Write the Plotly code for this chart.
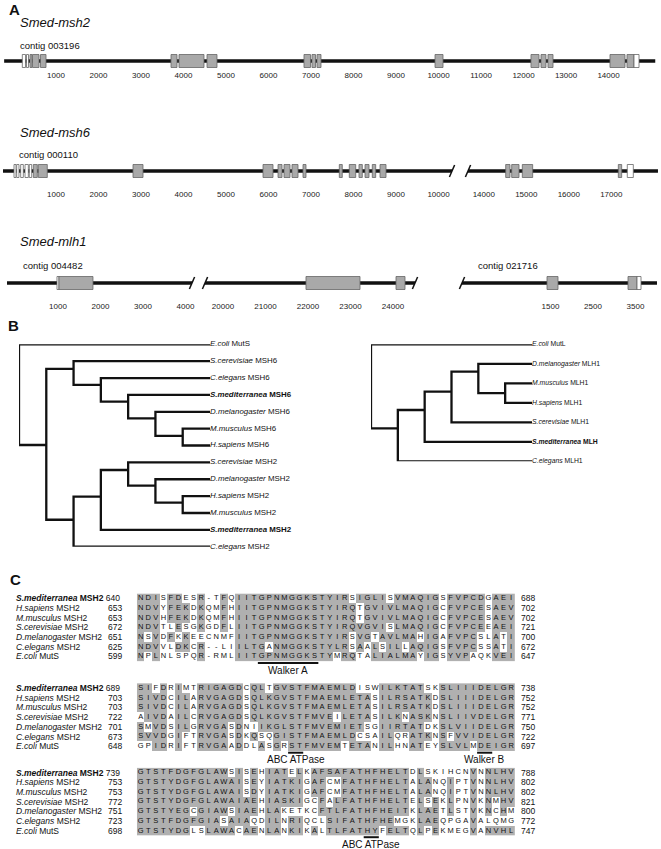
import plotly.graph_objects as go

W, H = 661, 849
SANS = "Liberation Sans, Arial, sans-serif"

def pxx(px):
    return px / W

def pxy(py):
    return 1 - py / H

# ======================= Panel A data =======================
gene_names = ["Smed-msh2", "Smed-msh6", "Smed-mlh1"]

# segments: (first bp, last bp, axis shift) ; display position = bp - shift
msh2_segments = [(-220, 15100, 0)]
msh2_contigs = ["contig 003196"]
msh2_ticks = [[1000, 2000, 3000, 4000, 5000, 6000, 7000, 8000, 9000, 10000,
               11000, 12000, 13000, 14000]]
msh2_exons = [(0, 207, 282, "w"), (0, 306, 353, "w"), (0, 388, 435, "g"),
              (0, 447, 600, "g"), (0, 635, 765, "g"),
              (0, 3706, 3847, "g"), (0, 3894, 4482, "g"), (0, 4553, 4788, "g"),
              (0, 6835, 6988, "g"), (0, 7023, 7106, "g"), (0, 7141, 7235, "g"),
              (0, 9918, 10106, "g"),
              (0, 12176, 12365, "g"), (0, 12412, 12529, "g"), (0, 12576, 12694, "g"),
              (0, 14035, 14388, "g"), (0, 14435, 14600, "g"), (0, 14600, 14718, "w")]

msh6_segments = [(-247, 10318, 0), (13629, 18099, 2935)]
msh6_contigs = ["contig 000110", None]
msh6_ticks = [[1000, 2000, 3000, 4000, 5000, 6000, 7000, 8000, 9000, 10000],
              [14000, 15000, 16000, 17000]]
msh6_exons = [(0, 12, 59, "w"), (0, 75, 129, "w"), (0, 169, 231, "w"),
              (0, 271, 349, "w"), (0, 372, 428, "w"), (0, 466, 560, "g"),
              (0, 584, 795, "g"), (0, 2812, 3047, "g"),
              (0, 5871, 6106, "g"), (0, 6224, 6318, "g"), (0, 6365, 6506, "g"),
              (0, 6553, 6694, "g"), (0, 6812, 6882, "g"),
              (0, 7666, 7736, "g"), (0, 7901, 8052, "g"), (0, 8129, 8207, "g"),
              (0, 8271, 8365, "g"), (0, 8442, 8522, "g"), (0, 8624, 8765, "g"),
              (1, 14516, 14617, "g"), (1, 14657, 14829, "g"), (1, 14907, 15151, "g"),
              (1, 17166, 17245, "g"), (1, 17377, 17519, "w")]

mlh1_segments = [(-200, 4153, -47), (19577, 24518, 15071), (-582, 4006, -11135)]
mlh1_contigs = ["contig 004482", None, "contig 021716"]
mlh1_ticks = [[1000, 2000, 3000, 4000], [20000, 21000, 22000, 23000, 24000],
              [1500, 2500, 3500]]
mlh1_exons = [(0, 976, 1023, "w"), (0, 1023, 1823, "g"),
              (1, 21953, 23224, "g"), (1, 24071, 24283, "g"),
              (2, 1418, 1677, "g"), (2, 3324, 3536, "g"), (2, 3536, 3630, "w")]

# ======================= Panel B data =======================
mms_leaves = ["<i>E.coli</i> MutS", "<i>S.cerevisiae</i> MSH6", "<i>C.elegans</i> MSH6",
              "<b><i>S.mediterranea</i> MSH6</b>", "<i>D.melanogaster</i> MSH6",
              "<i>M.musculus</i> MSH6", "<i>H.sapiens</i> MSH6",
              "<i>S.cerevisiae</i> MSH2", "<i>D.melanogaster</i> MSH2",
              "<i>H.sapiens</i> MSH2", "<i>M.musculus</i> MSH2",
              "<b><i>S.mediterranea</i> MSH2</b>", "<i>C.elegans</i> MSH2"]
mms_node_ids = ["root", "X", "M6", "C6", "S6", "D6", "MH6", "M2", "N3", "N4", "N5", "N6"]
mms_node_level = [0, 1, 2, 3, 4, 5, 6, 2, 3, 4, 5, 6]
mms_node_y = [None, 5.97, 1.46, 2.41, 3.40, 4.39, 5.43, 10.40, 9.03, 7.45, 8.38, 9.39]
mms_node_children = [["L0", "X"], ["M6", "M2"], ["L1", "C6"], ["L2", "S6"], ["L3", "D6"],
                     ["L4", "MH6"], ["L5", "L6"], ["N3", "L12"], ["N4", "L11"],
                     ["L7", "N5"], ["L8", "N6"], ["L9", "L10"]]

mlh_leaves = ["<i>E.coli</i> MutL", "<i>D.melanogaster</i> MLH1", "<i>M.musculus</i> MLH1",
              "<i>H.sapiens</i> MLH1", "<i>S.cerevisiae</i> MLH1",
              "<b><i>S.mediterranea</i> MLH</b>", "<i>C.elegans</i> MLH1"]
mlh_node_ids = ["root", "R1", "R2", "R3", "R4", "R5"]
mlh_node_level = [0, 1, 2, 3, 4, 5]
mlh_node_y = [None, 4.31, 3.37, 2.43, 1.40, 2.50]
mlh_node_children = [["L0", "R1"], ["R2", "L6"], ["R3", "L5"], ["R4", "L4"],
                     ["L1", "R5"], ["L2", "L3"]]

# ======================= Panel C data =======================
aln_names = ["<b><i>S.mediterranea</i> MSH2</b>", "<i>H.sapiens</i> MSH2",
             "<i>M.musculus</i> MSH2", "<i>S.cerevisiae</i> MSH2",
             "<i>D.melanogaster</i> MSH2", "<i>C.elegans</i> MSH2", "<i>E.coli</i> MutS"]
aln_bold = [True, False, False, False, False, False, False]

block1_seqs = ["NDISFDESR-TFQIITGPNMGGKSTYIRSIGLISVMAQIGSFVPCDGAEI",
               "NDVYFEKDKQMFHIITGPNMGGKSTYIRQTGVIVLMAQIGCFVPCESAEV",
               "NDVHFEKDKQMFHIITGPNMGGKSTYIRQTGVIVLMAQIGCFVPCESAEV",
               "NDVTLESGKGDFLIITGPNMGGKSTYIRQVGVISLMAQIGCFVPCEEAEI",
               "NSVDFKKEECNMFIITGPNMGGKSTYIRSVGTAVLMAHIGAFVPCSLATI",
               "NDVVLDKCR--LIILTGANMGGKSTYLRSAALSILLAQIGSFVPCSSATI",
               "NPLNLSPQR-RMLIITGPNMGGKSTYMRQTALIALMAYIGSYVPAQKVEI"]
block1_start = [640, 653, 653, 672, 651, 625, 599]
block1_end = [688, 702, 702, 721, 700, 672, 647]

block2_seqs = ["SIFDRIMTRIGAGDCQLTGVSTFMAEMLDISWILKTATSKSLIIIDELGR",
               "SIVDCILARVGAGDSQLKGVSTFMAEMLETASILRSATKDSLIIIDELGR",
               "SIVDCILARVGAGDSQLKGVSTFMAEMLETASILRSATKDSLIIIDELGR",
               "AIVDAILCRVGAGDSQLKGVSTFMVEILETASILKNASKNSLIIVDELGR",
               "SMVDSILGRVGASDNIIKGLSTFMVEMIETSGIIRTATDKSLVIIDELGR",
               "SVVDGIFTRVGASDKQSQGISTFMAEMLDCSAILQRATKNSFVVIDELGR",
               "GPIDRIFTRVGAADDLASGRSTFMVEMTETANILHNATEYSLVLMDEIGR"]
block2_start = [689, 703, 703, 722, 701, 673, 648]
block2_end = [738, 752, 752, 771, 750, 722, 697]

block3_seqs = ["GTSTFDGFGLAWSISEHIATELKAFSAFATHFHELTDLSKIHCNVNNLHV",
               "GTSTYDGFGLAWAISEYIATKIGAFCMFATHFHELTALANQIPTVNNLHV",
               "GTSTYDGFGLAWAISDYIATKIGAFCMFATHFHELTALANQIPTVNNLHV",
               "GTSTYDGFGLAWAIAEHIASKIGCFALFATHFHELTELSEKLPNVKNMHV",
               "GTSTYEGCGIAWSIAEHLAKETKCFTLFATHFHEITKLAETLSTVKNCHM",
               "GTSTFDGFGIASAIAQDILNRIQCLSIFATHFHEMGKLAEQPGAVALQMG",
               "GTSTYDGLSLAWACAENLANKIKALTLFATHYFELTQLPEKMEGVANVHL"]
block3_start = [739, 753, 753, 772, 751, 723, 698]
block3_end = [788, 802, 802, 821, 800, 772, 747]

# motifs: (first column, last column, label)
block1_motifs = [(16, 23, "Walker A")]
block2_motifs = [(20, 21, "ABC ATPase"), (45, 46, "Walker B")]
block3_motifs = [(30, 31, "ABC ATPase")]

SIM_GROUPS = ["ILVA", "M", "FYW", "KR", "DE", "ST", "NQ", "G", "P", "C", "H"]

# ======================= layout constants =======================
PX_PER_BP = 0.0425
ZERO_PX = 13.5
GRAY = "#a9a9a9"
EDGE = "#666666"
CELL_GRAY = "#b0b0b0"

row_name_y = [23, 132, 241]
row_contig_y = [45, 155, 265]
row_line_y = [61, 171, 283]
row_label_y = [76, 195, 307]

fig = go.Figure()
layout = dict(width=W, height=H, margin=dict(l=0, r=0, t=0, b=0),
              paper_bgcolor="white", plot_bgcolor="rgba(0,0,0,0)",
              showlegend=False, shapes=[], annotations=[])

def hidden_axis(**kw):
    d = dict(showgrid=False, zeroline=False, showline=False, ticks="",
             showticklabels=False, fixedrange=True)
    d.update(kw)
    return d

# ---------------- Panel A ----------------
genes = [(msh2_segments, msh2_contigs, msh2_ticks, msh2_exons),
         (msh6_segments, msh6_contigs, msh6_ticks, msh6_exons),
         (mlh1_segments, mlh1_contigs, mlh1_ticks, mlh1_exons)]
d0 = -ZERO_PX / PX_PER_BP
d1 = (W - ZERO_PX) / PX_PER_BP
slash_dx = 2.6 / PX_PER_BP

for i, (segs, contigs, ticks, exons) in enumerate(genes):
    n = i + 1
    xa = "x" if n == 1 else f"x{n}"
    ya = "y" if n == 1 else f"y{n}"
    top = row_line_y[i] - 12
    bottom = row_label_y[i] - 7
    tickvals, ticktext = [], []
    for (s0, s1, sh), tl in zip(segs, ticks):
        tickvals += [t - sh for t in tl]
        ticktext += [str(t) for t in tl]
    layout["xaxis" if n == 1 else f"xaxis{n}"] = hidden_axis(
        domain=[0, 1], range=[d0, d1], anchor=ya, showticklabels=True,
        tickvals=tickvals, ticktext=ticktext, ticklen=0,
        tickfont=dict(family=SANS, size=8, color="#222"))
    layout["yaxis" if n == 1 else f"yaxis{n}"] = hidden_axis(
        domain=[pxy(bottom), pxy(top)], range=[-(bottom - row_line_y[i]), 12], anchor=xa)

    lx, ly, sx, sy = [], [], [], []
    for k, (s0, s1, sh) in enumerate(segs):
        lx += [s0 - sh, s1 - sh, None]
        ly += [0, 0, None]
        if k > 0:
            sx += [s0 - sh - slash_dx, s0 - sh + slash_dx, None]
            sy += [-6, 6, None]
        if k < len(segs) - 1:
            sx += [s1 - sh - slash_dx, s1 - sh + slash_dx, None]
            sy += [-6, 6, None]
        if contigs[k]:
            layout["annotations"].append(dict(
                text=contigs[k], xref=xa, yref="paper", x=s0 - sh, xshift=14,
                y=pxy(row_contig_y[i]), xanchor="left", yanchor="middle",
                showarrow=False, font=dict(family=SANS, size=9.5, color="#111")))
    fig.add_trace(go.Scatter(x=lx, y=ly, mode="lines", xaxis=xa, yaxis=ya,
                             line=dict(color="#111", width=3.5), hoverinfo="skip"))
    if sx:
        fig.add_trace(go.Scatter(x=sx, y=sy, mode="lines", xaxis=xa, yaxis=ya,
                                 line=dict(color="#111", width=1.5), hoverinfo="skip"))
    for (k, e0, e1, kind) in exons:
        sh = segs[k][2]
        layout["shapes"].append(dict(
            type="rect", xref=xa, yref=ya, x0=e0 - sh, x1=e1 - sh, y0=-6.5, y1=6.5,
            fillcolor=GRAY if kind == "g" else "white",
            line=dict(color=EDGE, width=0.8)))
    layout["annotations"].append(dict(
        text=f"<i>{gene_names[i]}</i>", xref="paper", yref="paper",
        x=pxx(18), y=pxy(row_name_y[i]), xanchor="left", yanchor="middle",
        showarrow=False, font=dict(family=SANS, size=13, color="#111")))

# ---------------- Panel B ----------------
def draw_tree(leaves, ids, levels, ys, children, xa, ya, leaf_level, fsize):
    pos = {f"L{j}": (leaf_level, j) for j in range(len(leaves))}
    for nid, lv, yv in zip(ids, levels, ys):
        pos[nid] = (lv, yv)
    bx, by = [], []
    for nid, lv, ch in zip(ids, levels, children):
        (ax_, ay_), (bx_, by_) = pos[ch[0]], pos[ch[1]]
        bx += [ax_, lv, lv, bx_, None]
        by += [ay_, ay_, by_, by_, None]
    fig.add_trace(go.Scatter(x=bx, y=by, mode="lines", xaxis=xa, yaxis=ya,
                             line=dict(color="#111", width=2.3), hoverinfo="skip"))
    fig.add_trace(go.Scatter(x=[leaf_level] * len(leaves), y=list(range(len(leaves))),
                             mode="text", text=leaves, textposition="middle right",
                             xaxis=xa, yaxis=ya, cliponaxis=False, hoverinfo="skip",
                             textfont=dict(family=SANS, size=fsize, color="#111")))

layout["xaxis4"] = hidden_axis(domain=[pxx(19), pxx(210)], range=[0, 7], anchor="y4")
layout["yaxis4"] = hidden_axis(domain=[pxy(344.3 + 12 * 16.87), pxy(344.3)],
                               range=[12, 0], anchor="x4")
draw_tree(mms_leaves, mms_node_ids, mms_node_level, mms_node_y, mms_node_children,
          "x4", "y4", 7, 7.9)
layout["xaxis5"] = hidden_axis(domain=[pxx(371), pxx(532)], range=[0, 6], anchor="y5")
layout["yaxis5"] = hidden_axis(domain=[pxy(344.3 + 6 * 19.5), pxy(344.3)],
                               range=[6, 0], anchor="x5")
draw_tree(mlh_leaves, mlh_node_ids, mlh_node_level, mlh_node_y, mlh_node_children,
          "x5", "y5", 6, 6.8)

# ---------------- Panel C ----------------
def shading(seqs):
    z = [[0] * len(seqs[0]) for _ in seqs]
    for c in range(len(seqs[0])):
        col = [s[c] for s in seqs]
        best, bestn = None, 0
        for g in SIM_GROUPS:
            cnt = sum(ch in g for ch in col)
            if cnt > bestn:
                best, bestn = g, cnt
        if bestn >= 4:
            for r, ch in enumerate(col):
                if ch in best:
                    z[r][c] = 1
    return z

RS = 9.7
block_row1 = [598.3, 688.0, 772.5]
blocks = [(block1_seqs, block1_start, block1_end, block1_motifs),
          (block2_seqs, block2_start, block2_end, block2_motifs),
          (block3_seqs, block3_start, block3_end, block3_motifs)]
CELL_L, CELL_R = 136.9, 514.9
NAME_FONT = dict(family=SANS, size=8.5, color="#111")

for b, (seqs, starts, ends, motifs) in enumerate(blocks):
    n = 6 + b
    xa, ya = f"x{n}", f"y{n}"
    nr, nc = len(seqs), len(seqs[0])
    r1 = block_row1[b]
    layout[f"xaxis{n}"] = hidden_axis(domain=[pxx(CELL_L), pxx(CELL_R)],
                                      range=[-0.5, nc - 0.5], anchor=ya)
    layout[f"yaxis{n}"] = hidden_axis(domain=[pxy(r1 + (nr - 0.5) * RS), pxy(r1 - 0.5 * RS)],
                                      range=[nr - 0.5, -0.5], anchor=xa)
    fig.add_trace(go.Heatmap(z=shading(seqs), x=list(range(nc)), y=list(range(nr)),
                             xaxis=xa, yaxis=ya, zmin=0, zmax=1, showscale=False,
                             colorscale=[[0, "white"], [1, CELL_GRAY]], hoverinfo="skip"))
    tx, ty, tt = [], [], []
    for r, s in enumerate(seqs):
        for c, ch in enumerate(s):
            tx.append(c); ty.append(r); tt.append(ch)
    fig.add_trace(go.Scatter(x=tx, y=ty, text=tt, mode="text", xaxis=xa, yaxis=ya,
                             hoverinfo="skip",
                             textfont=dict(family=SANS, size=7.5, color="#111")))
    for r in range(nr):
        if aln_bold[r]:
            layout["annotations"].append(dict(
                text=f"{aln_names[r]} {starts[r]}", xref="paper", yref=ya, x=pxx(14), y=r,
                xanchor="left", yanchor="middle", showarrow=False, font=NAME_FONT))
        else:
            layout["annotations"].append(dict(
                text=aln_names[r], xref="paper", yref=ya, x=pxx(14), y=r,
                xanchor="left", yanchor="middle", showarrow=False, font=NAME_FONT))
            layout["annotations"].append(dict(
                text=str(starts[r]), xref="paper", yref=ya, x=pxx(124), y=r,
                xanchor="right", yanchor="middle", showarrow=False, font=NAME_FONT))
        layout["annotations"].append(dict(
            text=str(ends[r]), xref="paper", yref=ya, x=pxx(519), y=r,
            xanchor="left", yanchor="middle", showarrow=False, font=NAME_FONT))
    last_px = r1 + (nr - 1) * RS
    for (c0, c1, lab) in motifs:
        layout["shapes"].append(dict(type="line", xref=xa, yref="paper",
                                     x0=c0 - 0.5, x1=c1 + 0.5,
                                     y0=pxy(last_px + 6.5), y1=pxy(last_px + 6.5),
                                     line=dict(color="#111", width=2)))
        layout["annotations"].append(dict(
            text=lab, xref=xa, yref="paper", x=(c0 + c1) / 2, y=pxy(last_px + 13.5),
            xanchor="center", yanchor="middle", showarrow=False,
            font=dict(family=SANS, size=10, color="#111")))

# panel letters
for lab, px_, py_ in [("A", 7, 10), ("B", 6, 325), ("C", 8, 579)]:
    layout["annotations"].append(dict(
        text=f"<b>{lab}</b>", xref="paper", yref="paper", x=pxx(px_), y=pxy(py_),
        xanchor="left", yanchor="middle", showarrow=False,
        font=dict(family=SANS, size=15, color="#111")))

fig.update_layout(**layout)
fig.write_html("out.html", config={"displayModeBar": False, "staticPlot": True},
               post_script="document.body.style.margin='0';"
                           "document.body.style.overflow='hidden';")
